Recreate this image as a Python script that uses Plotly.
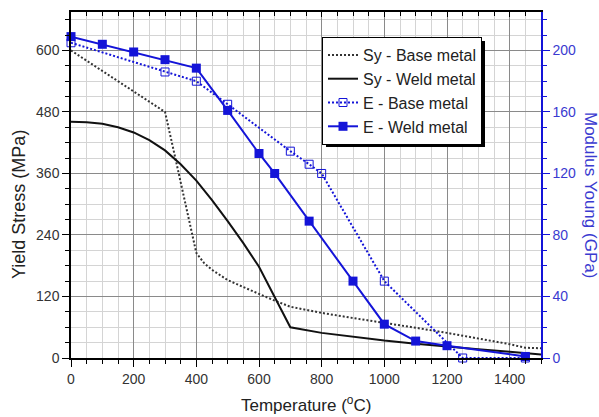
import plotly.graph_objects as go

# ---- data ----
T_sy_base = [0, 100, 200, 300, 325, 350, 375, 400, 425, 450, 500, 550, 600, 650, 700, 750,
             800, 900, 1000, 1100, 1200, 1300, 1400, 1450, 1500]
Sy_base = [600, 560, 520, 480, 412, 345, 277, 205, 185, 172, 152, 138, 125, 112, 100, 94,
           88, 78, 69, 59, 49, 38, 27, 20, 19]

T_sy_weld = [0, 50, 100, 150, 200, 250, 300, 350, 400, 450, 500, 550, 600, 650, 700,
             800, 900, 1000, 1100, 1200, 1300, 1400, 1500]
Sy_weld = [461, 460, 457, 450, 440, 425, 405, 378, 346, 308, 267, 224, 178, 120, 60,
           49, 41, 34, 28, 22, 17, 12, 7]

T_e_base = [0, 300, 400, 500, 700, 760, 800, 1000, 1250, 1450]
E_base = [205, 186, 180, 165, 134.5, 126, 120, 50, 0, 0]

T_e_weld = [0, 100, 200, 300, 400, 500, 600, 650, 760, 900, 1000, 1100, 1200, 1450]
E_weld = [209, 204, 199, 194, 188.5, 161, 133, 120, 89, 50, 22, 11, 8, 1]

x_ticks = [0, 200, 400, 600, 800, 1000, 1200, 1400]
y_ticks = [0, 120, 240, 360, 480, 600]
y2_ticks = [0, 40, 80, 120, 160, 200]

FONT = "Liberation Sans, Arial, sans-serif"
BLUE = "#1414d8"

fig = go.Figure()
fig.add_trace(go.Scatter(x=T_sy_base, y=Sy_base, mode="lines", name="Sy - Base metal",
                         line=dict(color="#333333", width=2, dash="2px,2px")))
fig.add_trace(go.Scatter(x=T_sy_weld, y=Sy_weld, mode="lines", name="Sy - Weld metal",
                         line=dict(color="#111111", width=2)))
fig.add_trace(go.Scatter(x=T_e_base, y=E_base, mode="lines+markers", name="E - Base metal",
                         yaxis="y2", cliponaxis=False,
                         line=dict(color=BLUE, width=2, dash="2px,2px"),
                         marker=dict(symbol="square-open", size=8, color=BLUE,
                                     line=dict(width=1, color=BLUE))))
fig.add_trace(go.Scatter(x=T_e_weld, y=E_weld, mode="lines+markers", name="E - Weld metal",
                         yaxis="y2", cliponaxis=False,
                         line=dict(color=BLUE, width=2),
                         marker=dict(symbol="square", size=9, color=BLUE)))
# invisible trace for the top mirror axis
fig.add_trace(go.Scatter(x=[0, 1500], y=[0, 0], xaxis="x2", mode="markers",
                         marker=dict(opacity=0), showlegend=False, hoverinfo="skip"))

L, R, T, B = 71, 58, 12, 59
W, H = 599, 417
pw, ph = W - L - R, H - T - B


def px_x(p):
    return (p - L) / pw


def px_y(p):
    return (H - B - p) / ph


LEG_L, LEG_T, LEG_R, LEG_B = 322, 37, 481, 143   # legend box as rendered (px)
SH = 4                                            # shadow offset

fig.update_layout(
    width=W, height=H,
    margin=dict(l=L, r=R, t=T, b=B, autoexpand=False),
    paper_bgcolor="white", plot_bgcolor="white",
    font=dict(family=FONT, size=14, color="#222222"),
    showlegend=True,
    legend=dict(x=px_x(LEG_L), y=px_y(LEG_T), xanchor="left", yanchor="top",
                bgcolor="white", bordercolor="#000000", borderwidth=1,
                font=dict(size=16, color="#222222"), tracegroupgap=0,
                itemwidth=30),
    xaxis=dict(range=[0, 1500], tickvals=x_ticks, ticks="outside", ticklen=7,
               tickwidth=1.2, tickcolor="#000", showline=True, linecolor="#000",
               linewidth=1.5, showgrid=True, gridcolor="#8a8a8a", gridwidth=1,
               zeroline=False, tickfont=dict(size=14, color="#333"), automargin=False,
               minor=dict(dtick=50, tick0=0, ticks="outside", ticklen=4, tickcolor="#000",
                          showgrid=True, gridcolor="#d4d4d4", gridwidth=1)),
    xaxis2=dict(range=[0, 1500], overlaying="x", side="top", anchor="y",
                tickvals=x_ticks, ticks="inside", ticklen=5, tickcolor="#000",
                showticklabels=False, showline=True, linecolor="#000", linewidth=1.5,
                showgrid=False, zeroline=False, automargin=False,
                minor=dict(dtick=50, tick0=0, ticks="inside", ticklen=4, tickcolor="#000",
                           showgrid=False)),
    yaxis=dict(range=[0, 675], tickvals=y_ticks, ticks="outside", ticklen=7,
               tickwidth=1.2, tickcolor="#000", showline=True, linecolor="#000",
               linewidth=1.5, showgrid=True, gridcolor="#8a8a8a", gridwidth=1,
               zeroline=False, tickfont=dict(size=14, color="#333"), automargin=False,
               minor=dict(dtick=30, tick0=0, ticks="outside", ticklen=4, tickcolor="#000",
                          showgrid=True, gridcolor="#d4d4d4", gridwidth=1)),
    yaxis2=dict(range=[0, 225], overlaying="y", side="right", anchor="x",
                tickvals=y2_ticks, ticks="outside", ticklen=7, tickwidth=1.2,
                tickcolor=BLUE, showline=True, linecolor=BLUE, linewidth=1.5,
                showgrid=False, zeroline=False, automargin=False,
                tickfont=dict(size=14, color="#3a3ad0"),
                minor=dict(dtick=10, tick0=0, ticks="outside", ticklen=4, tickcolor=BLUE,
                           showgrid=False)),
    shapes=[dict(type="rect", xref="paper", yref="paper",
                 x0=px_x(LEG_L + SH), x1=px_x(LEG_R + SH),
                 y0=px_y(LEG_B + SH), y1=px_y(LEG_T + SH),
                 fillcolor="black", line=dict(width=0), layer="above")],
    annotations=[
        dict(text="Temperature (<sup>o</sup>C)", xref="paper", yref="paper",
             x=px_x(306), y=px_y(404), xanchor="center", yanchor="middle",
             showarrow=False, font=dict(size=17, color="#222")),
        dict(text="Yield Stress (MPa)", xref="paper", yref="paper",
             x=px_x(19), y=px_y(205), xanchor="center", yanchor="middle",
             textangle=-90, showarrow=False, font=dict(size=18, color="#222")),
        dict(text="Modulus Young (GPa)", xref="paper", yref="paper",
             x=px_x(591), y=px_y(195), xanchor="center", yanchor="middle",
             textangle=90, showarrow=False, font=dict(size=17, color="#3a3ad0")),
    ],
)

fig.write_html("out.html")
